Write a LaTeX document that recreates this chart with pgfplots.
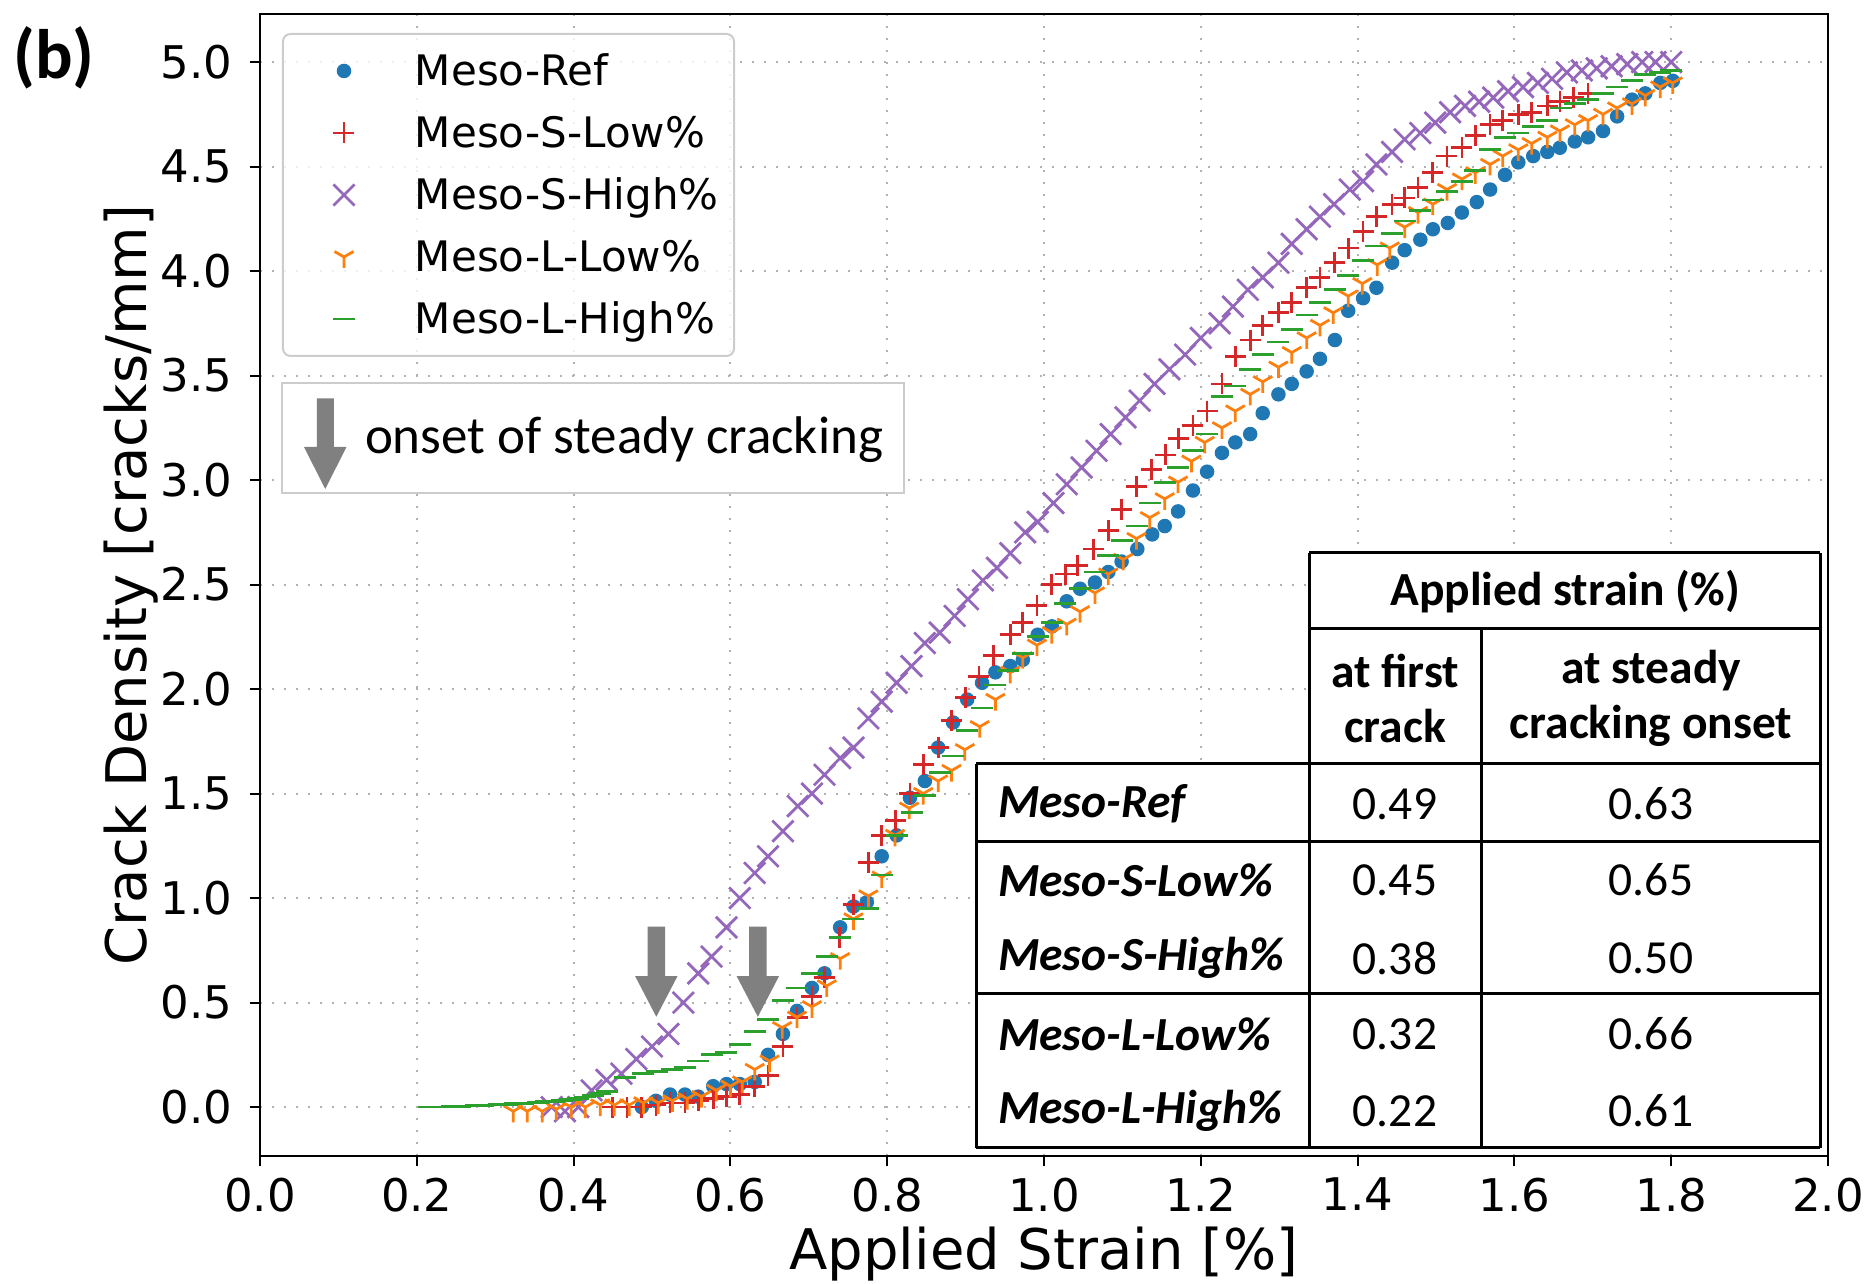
\documentclass[border=0pt]{standalone}
\usepackage{pgfplots}
\pgfplotsset{compat=1.18}
\usepackage{fontspec}
\setmainfont{DejaVu Sans}
\newfontfamily\calibri{Carlito}
\usetikzlibrary{plotmarks}
\definecolor{c1}{HTML}{1F77B4}
\definecolor{c2}{HTML}{D62728}
\definecolor{c3}{HTML}{9467BD}
\definecolor{c4}{HTML}{FF7F0E}
\definecolor{c5}{HTML}{2CA02C}
\pgfplotsset{mylegend/.style={legend image code/.code={\path[draw=none,fill=none] (0pt,0pt) (26.4pt,0pt); \draw[##1, fill opacity=1, draw opacity=1] plot coordinates {(12.2pt,0pt)};}}}
\begin{document}
\begin{tikzpicture}
\useasboundingbox (-52pt,-25.6pt) rectangle (322.6pt,231.2pt);
\begin{axis}[
  at={(0pt,0pt)}, anchor=south west, scale only axis, width=313.6pt, height=228.4pt,
  xmin=0, xmax=2, ymin=-0.234, ymax=5.23,
  xtick={0,0.2,0.4,0.6,0.8,1.0,1.2,1.4,1.6,1.8,2.0},
  ytick={0,0.5,1.0,1.5,2.0,2.5,3.0,3.5,4.0,4.5,5.0},
  xticklabel style={yshift=1.2pt, /pgf/number format/.cd, fixed, fixed zerofill, precision=1},
  yticklabel style={/pgf/number format/.cd, fixed, fixed zerofill, precision=1},
  /pgf/number format/assume math mode=true,
  tick label style={font=\fontsize{9}{10}\selectfont},
  tick align=outside, major tick length=2pt, tick style={black, line width=0.4pt},
  xtick pos=bottom, ytick pos=left,
  grid=major, grid style={dotted, black!30, line width=0.4pt},
  axis line style={black, line width=0.5pt},
  xlabel={Applied Strain [\%]}, ylabel={Crack Density [cracks/mm]},
  label style={font=\fontsize{11.2}{13}\selectfont},
  xlabel style={at={(axis description cs:0.5,-0.0858)}, anchor=center},
  ylabel style={at={(axis description cs:-0.0823,0.5)}, anchor=center},
  legend cell align=left,
  legend style={at={(0,1)}, anchor=north west, xshift=4.4pt, yshift=-3.8pt,
    draw=black!20, fill=white, fill opacity=0.8, draw opacity=1, text opacity=1,
    rounded corners=1.5pt, inner xsep=0pt, inner ysep=1.2pt,
    font=\fontsize{8.4}{10}\selectfont, row sep=0pt,
    nodes={inner sep=0pt, text height=9.2pt, text depth=3.2pt}},
]
\addplot[only marks, mark=*, color=c1, line width=0.3pt, mark size=1.3pt, mylegend] coordinates {
(0.487,0.0) (0.505,0.03) (0.523,0.06) (0.542,0.06) (0.559,0.05) (0.578,0.10) (0.595,0.11) (0.612,0.11) (0.631,0.12) (0.648,0.25) (0.667,0.35) (0.685,0.46) (0.704,0.57) (0.72,0.64) (0.74,0.86) (0.757,0.96) (0.774,0.98) (0.793,1.20) (0.812,1.30) (0.829,1.48) (0.848,1.56) (0.865,1.72) (0.884,1.84) (0.902,1.95) (0.921,2.03) (0.938,2.08) (0.957,2.11) (0.973,2.14) (0.992,2.26) (1.01,2.30) (1.029,2.42) (1.046,2.48) (1.065,2.51) (1.082,2.56) (1.099,2.61) (1.119,2.67) (1.138,2.74) (1.154,2.78) (1.171,2.85) (1.19,2.95) (1.208,3.04) (1.227,3.13) (1.244,3.18) (1.263,3.22) (1.279,3.32) (1.299,3.41) (1.316,3.46) (1.335,3.52) (1.352,3.58) (1.371,3.67) (1.388,3.81) (1.407,3.87) (1.424,3.92) (1.444,4.04) (1.46,4.10) (1.48,4.15) (1.496,4.20) (1.515,4.23) (1.533,4.28) (1.552,4.33) (1.569,4.39) (1.588,4.46) (1.605,4.52) (1.624,4.55) (1.642,4.57) (1.658,4.59) (1.677,4.62) (1.694,4.64) (1.713,4.67) (1.731,4.74) (1.75,4.82) (1.767,4.85) (1.786,4.90) (1.802,4.91)
};
\addlegendentry{\makebox[63.8pt][l]{Meso-Ref}}
\addplot[only marks, mark=+, color=c2, line width=0.55pt, mark size=2.1pt, mylegend] coordinates {
(0.45,0.0) (0.468,0.0) (0.487,0.0) (0.505,0.01) (0.523,0.02) (0.542,0.02) (0.559,0.03) (0.578,0.04) (0.595,0.05) (0.612,0.06) (0.631,0.10) (0.648,0.15) (0.667,0.29) (0.685,0.43) (0.704,0.53) (0.72,0.62) (0.739,0.81) (0.757,0.97) (0.776,1.17) (0.793,1.30) (0.811,1.37) (0.829,1.50) (0.846,1.64) (0.865,1.72) (0.882,1.85) (0.90,1.96) (0.917,2.06) (0.936,2.16) (0.957,2.26) (0.973,2.32) (0.991,2.40) (1.01,2.50) (1.027,2.55) (1.043,2.59) (1.063,2.67) (1.082,2.76) (1.099,2.86) (1.118,2.97) (1.137,3.05) (1.155,3.12) (1.172,3.20) (1.19,3.26) (1.208,3.33) (1.227,3.46) (1.244,3.59) (1.263,3.67) (1.279,3.74) (1.299,3.80) (1.316,3.85) (1.335,3.92) (1.352,3.97) (1.371,4.04) (1.388,4.11) (1.407,4.19) (1.424,4.26) (1.444,4.32) (1.46,4.35) (1.477,4.40) (1.496,4.47) (1.514,4.55) (1.533,4.59) (1.55,4.65) (1.569,4.70) (1.585,4.72) (1.605,4.75) (1.622,4.76) (1.642,4.79) (1.658,4.81) (1.675,4.83) (1.694,4.85)
};
\addlegendentry{\makebox[63.8pt][l]{Meso-S-Low\%}}
\addplot[only marks, mark=x, color=c3, line width=0.55pt, mark size=3.0pt, mylegend] coordinates {
(0.372,0.0) (0.389,-0.02) (0.406,0.0) (0.423,0.08) (0.442,0.13) (0.461,0.16) (0.48,0.23) (0.50,0.29) (0.521,0.35) (0.54,0.50) (0.559,0.64) (0.576,0.72) (0.595,0.86) (0.612,1.0) (0.631,1.12) (0.648,1.20) (0.667,1.32) (0.686,1.44) (0.704,1.50) (0.72,1.59) (0.74,1.67) (0.757,1.72) (0.776,1.86) (0.793,1.94) (0.812,2.03) (0.831,2.11) (0.848,2.22) (0.867,2.27) (0.886,2.35) (0.903,2.43) (0.922,2.52) (0.94,2.58) (0.957,2.65) (0.976,2.75) (0.992,2.80) (1.012,2.89) (1.029,2.98) (1.048,3.06) (1.067,3.14) (1.085,3.22) (1.104,3.30) (1.122,3.38) (1.141,3.46) (1.16,3.53) (1.18,3.60) (1.2,3.68) (1.224,3.75) (1.241,3.83) (1.26,3.91) (1.279,3.97) (1.299,4.04) (1.316,4.13) (1.335,4.20) (1.352,4.26) (1.37,4.32) (1.39,4.39) (1.407,4.43) (1.424,4.51) (1.444,4.57) (1.46,4.63) (1.48,4.66) (1.499,4.71) (1.518,4.76) (1.537,4.79) (1.555,4.81) (1.573,4.83) (1.592,4.86) (1.611,4.88) (1.63,4.90) (1.648,4.92) (1.667,4.95) (1.686,4.96) (1.705,4.97) (1.724,4.98) (1.744,4.99) (1.763,5.0) (1.78,5.0) (1.80,5.0)
};
\addlegendentry{\makebox[63.8pt][l]{Meso-S-High\%}}
\addplot[only marks, mark=Mercedes star flipped, color=c4, line width=0.55pt, mark size=2.2pt, mylegend] coordinates {
(0.323,-0.02) (0.341,-0.02) (0.36,-0.02) (0.378,-0.01) (0.397,0.0) (0.415,0.0) (0.434,0.01) (0.452,0.01) (0.471,0.01) (0.489,0.02) (0.508,0.02) (0.526,0.03) (0.545,0.04) (0.563,0.05) (0.582,0.08) (0.60,0.10) (0.615,0.12) (0.631,0.18) (0.65,0.22) (0.666,0.38) (0.685,0.43) (0.704,0.48) (0.723,0.58) (0.74,0.71) (0.757,0.90) (0.776,1.01) (0.793,1.10) (0.81,1.30) (0.828,1.43) (0.846,1.50) (0.865,1.56) (0.882,1.61) (0.899,1.71) (0.918,1.82) (0.938,1.95) (0.957,2.08) (0.973,2.15) (0.991,2.21) (1.01,2.27) (1.029,2.31) (1.046,2.37) (1.065,2.46) (1.082,2.55) (1.101,2.62) (1.118,2.72) (1.135,2.82) (1.154,2.91) (1.171,2.99) (1.188,3.09) (1.205,3.18) (1.227,3.25) (1.244,3.33) (1.263,3.41) (1.279,3.47) (1.299,3.54) (1.316,3.61) (1.335,3.68) (1.352,3.74) (1.369,3.80) (1.388,3.88) (1.406,3.94) (1.425,4.03) (1.441,4.11) (1.46,4.21) (1.477,4.28) (1.496,4.32) (1.514,4.39) (1.533,4.44) (1.55,4.47) (1.569,4.51) (1.585,4.55) (1.605,4.58) (1.622,4.61) (1.642,4.64) (1.658,4.67) (1.677,4.70) (1.694,4.72) (1.713,4.75) (1.731,4.78) (1.75,4.80) (1.767,4.84) (1.786,4.88) (1.802,4.90)
};
\addlegendentry{\makebox[63.8pt][l]{Meso-L-Low\%}}
\addplot[only marks, mark=-, color=c5, line width=0.55pt, mark size=2.2pt, mylegend] coordinates {
(0.215,0.0) (0.225,0.0) (0.235,0.001) (0.245,0.003) (0.255,0.004) (0.265,0.005) (0.275,0.006) (0.285,0.008) (0.295,0.01) (0.305,0.012) (0.315,0.014) (0.325,0.016) (0.335,0.018) (0.345,0.02) (0.355,0.022) (0.365,0.025) (0.375,0.028) (0.385,0.032) (0.395,0.036) (0.405,0.042) (0.415,0.048) (0.425,0.055) (0.434,0.065) (0.442,0.075) (0.465,0.14) (0.489,0.16) (0.507,0.17) (0.525,0.18) (0.542,0.19) (0.559,0.22) (0.576,0.25) (0.595,0.26) (0.612,0.30) (0.631,0.36) (0.648,0.42) (0.667,0.51) (0.685,0.57) (0.704,0.64) (0.723,0.72) (0.74,0.81) (0.757,0.90) (0.776,0.95) (0.793,1.11) (0.812,1.30) (0.831,1.41) (0.848,1.49) (0.867,1.60) (0.884,1.68) (0.902,1.80) (0.921,1.91) (0.938,2.02) (0.954,2.09) (0.973,2.17) (0.992,2.25) (1.01,2.32) (1.027,2.41) (1.046,2.48) (1.065,2.56) (1.082,2.64) (1.099,2.71) (1.118,2.78) (1.135,2.89) (1.154,2.99) (1.171,3.06) (1.19,3.14) (1.208,3.22) (1.227,3.40) (1.244,3.45) (1.263,3.53) (1.279,3.60) (1.299,3.66) (1.316,3.72) (1.335,3.79) (1.352,3.85) (1.371,3.91) (1.388,3.98) (1.407,4.05) (1.424,4.12) (1.444,4.18) (1.46,4.24) (1.48,4.29) (1.496,4.34) (1.514,4.38) (1.533,4.43) (1.55,4.48) (1.569,4.58) (1.588,4.64) (1.605,4.66) (1.624,4.69) (1.642,4.72) (1.66,4.78) (1.677,4.80) (1.694,4.82) (1.713,4.85) (1.731,4.88) (1.75,4.91) (1.767,4.94) (1.786,4.95) (1.80,4.96)
};
\addlegendentry{\makebox[63.8pt][l]{Meso-L-High\%}}
% onset arrows
\fill[gray] ([xshift=-1.75pt]axis cs:0.5055,0.863) -- ([xshift=1.75pt]axis cs:0.5055,0.863) -- ([xshift=1.75pt]axis cs:0.5055,0.627) -- ([xshift=4.25pt]axis cs:0.5055,0.627) -- (axis cs:0.5055,0.432) -- ([xshift=-4.25pt]axis cs:0.5055,0.627) -- ([xshift=-1.75pt]axis cs:0.5055,0.627) -- cycle;
\fill[gray] ([xshift=-1.75pt]axis cs:0.635,0.863) -- ([xshift=1.75pt]axis cs:0.635,0.863) -- ([xshift=1.75pt]axis cs:0.635,0.627) -- ([xshift=4.25pt]axis cs:0.635,0.627) -- (axis cs:0.635,0.432) -- ([xshift=-4.25pt]axis cs:0.635,0.627) -- ([xshift=-1.75pt]axis cs:0.635,0.627) -- cycle;
\end{axis}
% onset legend box
\draw[black!20, fill=white, line width=0.4pt] (4.4pt,132.6pt) rectangle (128.8pt,154.6pt);
\fill[gray] (11.35pt,151.5pt) -- (14.75pt,151.5pt) -- (14.75pt,141.8pt) -- (17.3pt,141.8pt) -- (13.05pt,133.4pt) -- (8.8pt,141.8pt) -- (11.35pt,141.8pt) -- cycle;
\node[anchor=west, inner sep=0pt, font=\calibri\fontsize{10.6}{12}\selectfont] at (20.8pt,143.2pt) {onset of steady cracking};
% table
\fill[white] (143.2pt,1.6pt) rectangle (312pt,78.4pt);
\fill[white] (209.8pt,78.4pt) rectangle (312pt,120.6pt);
\begin{scope}[line width=0.6pt, black]
\draw (209.8pt,120.6pt) -- (312pt,120.6pt);
\draw (209.8pt,105.4pt) -- (312pt,105.4pt);
\draw (143.2pt,78.4pt) -- (312pt,78.4pt);
\draw (143.2pt,62.8pt) -- (312pt,62.8pt);
\draw (143.2pt,32.4pt) -- (312pt,32.4pt);
\draw (143.2pt,1.6pt) -- (312pt,1.6pt);
\draw (143.2pt,1.6pt) -- (143.2pt,78.4pt);
\draw (209.8pt,1.6pt) -- (209.8pt,120.6pt);
\draw (244.2pt,1.6pt) -- (244.2pt,105.4pt);
\draw (312pt,1.6pt) -- (312pt,120.6pt);
\end{scope}
\begin{scope}[every node/.style={inner sep=0pt, font=\calibri\fontsize{9.5}{11}\selectfont}]
\node[font=\calibri\bfseries\fontsize{9.5}{11}\selectfont] at (261pt,112.8pt) {Applied strain (\%)};
\node[font=\calibri\bfseries\fontsize{9.5}{11}\selectfont] at (227pt,97pt) {at first};
\node[font=\calibri\bfseries\fontsize{9.5}{11}\selectfont] at (227pt,86pt) {crack};
\node[font=\calibri\bfseries\fontsize{9.5}{11}\selectfont] at (278.2pt,97pt) {at steady};
\node[font=\calibri\bfseries\fontsize{9.5}{11}\selectfont] at (278.2pt,86pt) {cracking onset};
\node[anchor=west, font=\calibri\bfseries\itshape\fontsize{9.5}{11}\selectfont] at (147.4pt,70.4pt) {Meso-Ref};
\node[anchor=west, font=\calibri\bfseries\itshape\fontsize{9.5}{11}\selectfont] at (147.4pt,55.2pt) {Meso-S-Low\%};
\node[anchor=west, font=\calibri\bfseries\itshape\fontsize{9.5}{11}\selectfont] at (147.4pt,39.6pt) {Meso-S-High\%};
\node[anchor=west, font=\calibri\bfseries\itshape\fontsize{9.5}{11}\selectfont] at (147.4pt,24.4pt) {Meso-L-Low\%};
\node[anchor=west, font=\calibri\bfseries\itshape\fontsize{9.5}{11}\selectfont] at (147.4pt,9.0pt) {Meso-L-High\%};
\node at (227pt,70.4pt) {0.49};
\node at (227pt,55.2pt) {0.45};
\node at (227pt,39.6pt) {0.38};
\node at (227pt,24.4pt) {0.32};
\node at (227pt,9.0pt) {0.22};
\node at (278.2pt,70.4pt) {0.63};
\node at (278.2pt,55.2pt) {0.65};
\node at (278.2pt,39.6pt) {0.50};
\node at (278.2pt,24.4pt) {0.66};
\node at (278.2pt,9.0pt) {0.61};
\end{scope}
\node[font=\calibri\bfseries\fontsize{14}{16}\selectfont] at (-41.2pt,219.6pt) {(b)};
\end{tikzpicture}
\end{document}
